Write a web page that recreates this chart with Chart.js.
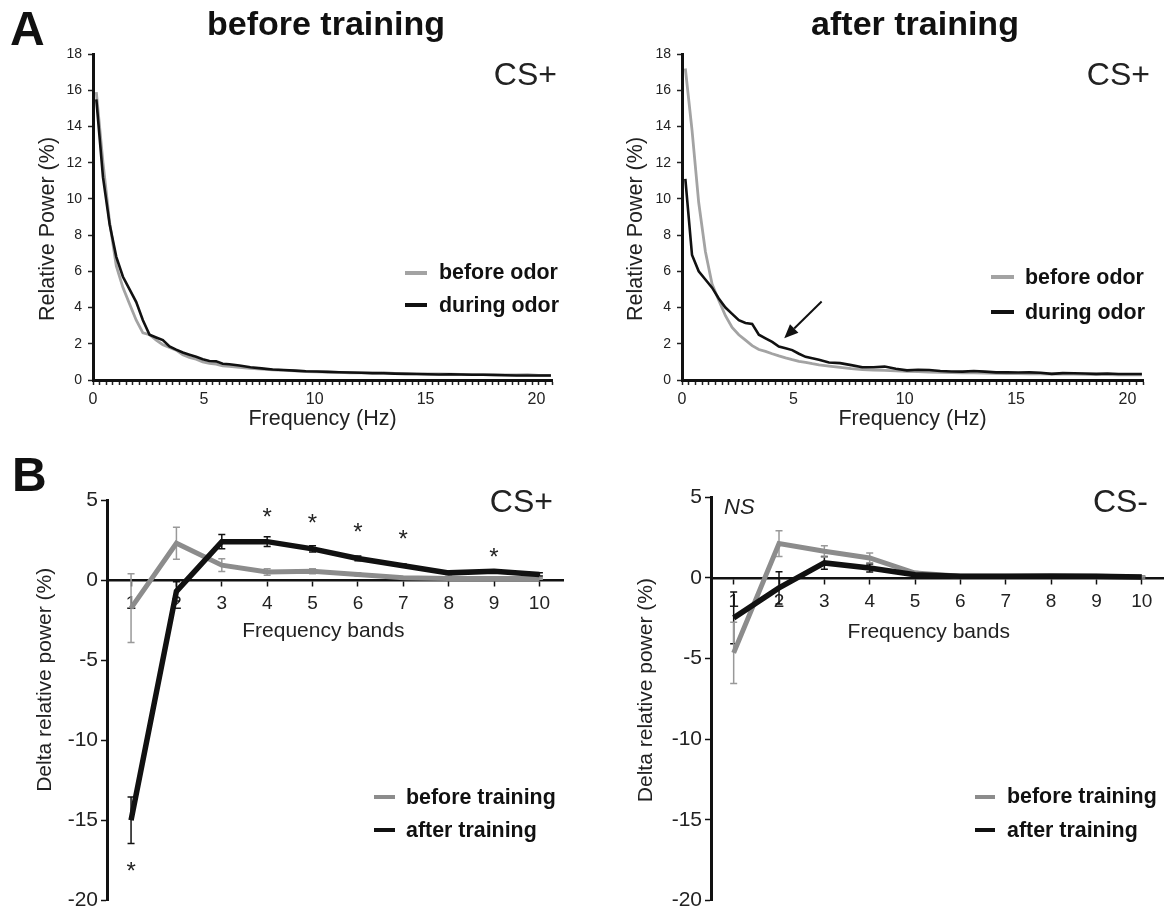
<!DOCTYPE html>
<html>
<head>
<meta charset="utf-8">
<script src="https://cdn.jsdelivr.net/npm/chart.js@4.4.1/dist/chart.umd.min.js"></script>
<style>
  html, body { margin: 0; padding: 0; background: #fff; }
  #fig { position: relative; width: 1164px; height: 916px; overflow: hidden;
         font-family: "Liberation Sans", Arial, sans-serif; color: #111; }
  #fig canvas { position: absolute; left: 0; top: 0; }
  .txt { position: absolute; line-height: 1; white-space: nowrap; }
  .panel { font-weight: bold; font-size: 48px; }
  .title { font-weight: bold; font-size: 34px; transform: translateX(-50%); }
  .cs { font-size: 32px; color: #222; }
  .ns { font-size: 22px; font-style: italic; color: #222; }
  .key { position: absolute; height: 4px; }
  .keytxt { font-weight: bold; font-size: 21.4px; }
</style>
</head>
<body>
<div id="fig">
  <canvas id="specBefore" width="1164" height="916"></canvas>
  <canvas id="specAfter" width="1164" height="916"></canvas>
  <canvas id="bandsPlus" width="1164" height="916"></canvas>
  <canvas id="bandsMinus" width="1164" height="916"></canvas>

  <div class="txt panel" style="left:10px;top:5px">A</div>
  <div class="txt panel" style="left:12px;top:451px">B</div>
  <div class="txt title" style="left:326px;top:6px">before training</div>
  <div class="txt title" style="left:915px;top:6px">after training</div>

  <div class="txt cs" style="right:607px;top:58px">CS+</div>
  <div class="txt cs" style="right:14px;top:58px">CS+</div>
  <div class="txt cs" style="right:611px;top:485px">CS+</div>
  <div class="txt cs" style="right:16px;top:485px">CS-</div>
  <div class="txt ns" style="left:724px;top:496px">NS</div>

  <div class="key" style="left:405px;width:22px;top:271px;background:#a3a3a3"></div>
  <div class="txt keytxt" style="left:439px;top:262px">before odor</div>
  <div class="key" style="left:405px;width:22px;top:303px;background:#111"></div>
  <div class="txt keytxt" style="left:439px;top:295px">during odor</div>

  <div class="key" style="left:991px;width:23px;top:275px;background:#a3a3a3"></div>
  <div class="txt keytxt" style="left:1025px;top:267px">before odor</div>
  <div class="key" style="left:991px;width:23px;top:310px;background:#111"></div>
  <div class="txt keytxt" style="left:1025px;top:302px">during odor</div>

  <div class="key" style="left:374px;width:21px;top:795px;background:#8c8c8c"></div>
  <div class="txt keytxt" style="left:406px;top:787px">before training</div>
  <div class="key" style="left:374px;width:21px;top:828px;background:#111"></div>
  <div class="txt keytxt" style="left:406px;top:820px">after training</div>

  <div class="key" style="left:975px;width:20px;top:795px;background:#8c8c8c"></div>
  <div class="txt keytxt" style="left:1007px;top:786px">before training</div>
  <div class="key" style="left:975px;width:20px;top:828px;background:#111"></div>
  <div class="txt keytxt" style="left:1007px;top:820px">after training</div>
</div>

<script>
// A: relative power spectra (Hz on x)
const FREQ_HZ = [0.15, 0.45, 0.75, 1.05, 1.35, 1.65, 1.95, 2.25, 2.55, 2.85, 3.15, 3.45, 3.75, 4.05,
  4.35, 4.65, 4.95, 5.25, 5.55, 5.85, 6.15, 6.6, 7.1, 7.6, 8.1, 8.6, 9.1, 9.6, 10.1, 10.6, 11.1,
  11.6, 12.1, 12.6, 13.1, 13.6, 14.1, 14.6, 15.1, 15.6, 16.1, 16.6, 17.1, 17.6, 18.1, 18.6, 19.1,
  19.6, 20.1, 20.65];

const PRE_TRAIN_BEFORE_ODOR = [15.9, 12.0, 8.7, 6.3, 5.1, 4.2, 3.3, 2.6, 2.5, 2.2, 1.95, 1.8, 1.65,
  1.4, 1.25, 1.15, 1.0, 0.92, 0.88, 0.78, 0.76, 0.7, 0.64, 0.6, 0.56, 0.53, 0.5, 0.47, 0.45, 0.43,
  0.42, 0.4, 0.39, 0.38, 0.4, 0.36, 0.35, 0.34, 0.33, 0.33, 0.32, 0.31, 0.3, 0.3, 0.29, 0.28, 0.28,
  0.29, 0.26, 0.25];
const PRE_TRAIN_DURING_ODOR = [15.5, 11.2, 8.6, 6.8, 5.7, 5.0, 4.3, 3.3, 2.5, 2.35, 2.2, 1.85, 1.68,
  1.52, 1.4, 1.28, 1.15, 1.05, 1.03, 0.9, 0.87, 0.8, 0.7, 0.64, 0.58, 0.55, 0.52, 0.48, 0.47, 0.45,
  0.43, 0.41, 0.4, 0.38, 0.37, 0.35, 0.34, 0.33, 0.32, 0.3, 0.31, 0.3, 0.29, 0.29, 0.28, 0.26, 0.25,
  0.25, 0.25, 0.25];
const POST_TRAIN_BEFORE_ODOR = [17.2, 13.8, 9.8, 7.1, 5.3, 4.4, 3.55, 2.9, 2.5, 2.2, 1.9, 1.68, 1.58,
  1.45, 1.33, 1.22, 1.12, 1.03, 0.97, 0.9, 0.84, 0.77, 0.7, 0.63, 0.58, 0.55, 0.53, 0.5, 0.48, 0.46,
  0.44, 0.42, 0.41, 0.4, 0.39, 0.38, 0.37, 0.36, 0.35, 0.34, 0.34, 0.33, 0.32, 0.32, 0.31, 0.3, 0.3,
  0.29, 0.28, 0.28];
const POST_TRAIN_DURING_ODOR = [11.1, 6.9, 6.0, 5.55, 5.1, 4.5, 4.0, 3.65, 3.3, 3.15, 3.1, 2.5, 2.3,
  2.1, 1.85, 1.75, 1.65, 1.45, 1.28, 1.2, 1.12, 0.97, 0.93, 0.82, 0.7, 0.7, 0.74, 0.62, 0.53, 0.57,
  0.55, 0.5, 0.47, 0.46, 0.5, 0.46, 0.42, 0.42, 0.41, 0.42, 0.4, 0.34, 0.38, 0.37, 0.36, 0.34, 0.36,
  0.33, 0.33, 0.33];
const FREQ_LABELS = [0, 5, 10, 15, 20];
const ARROW_FROM = [6.27, 4.33];   // Hz, %
const ARROW_TO = [4.59, 2.3];

// B: delta relative power per frequency band (mean and error)
const BANDS = [1, 2, 3, 4, 5, 6, 7, 8, 9, 10];
const CSP_BEFORE = [-1.75, 2.3, 0.93, 0.5, 0.55, 0.35, 0.15, 0.1, 0.1, 0.1];
const CSP_BEFORE_ERR = [2.15, 1.0, 0.4, 0.2, 0.15, 0.1, 0.05, 0.05, 0.05, 0.05];
const CSP_AFTER = [-15.0, -0.7, 2.4, 2.4, 1.95, 1.35, 0.9, 0.45, 0.55, 0.35];
const CSP_AFTER_ERR = [1.45, 0.6, 0.45, 0.3, 0.2, 0.15, 0.1, 0.1, 0.1, 0.1];
const CSM_BEFORE = [-4.65, 2.13, 1.65, 1.24, 0.3, 0.1, 0.1, 0.15, 0.1, 0.05];
const CSM_BEFORE_ERR = [1.9, 0.8, 0.35, 0.3, 0.1, 0.05, 0.05, 0.05, 0.05, 0.05];
const CSM_AFTER = [-2.48, -0.62, 0.93, 0.62, 0.2, 0.1, 0.1, 0.1, 0.1, 0.05];
const CSM_AFTER_ERR = [1.6, 1.0, 0.4, 0.25, 0.1, 0.05, 0.05, 0.05, 0.05, 0.05];
const CSP_STAR_BANDS = [1, 4, 5, 6, 7, 9];
const CSP_STAR_Y = [-17.8, 4.3, 3.93, 3.38, 2.95, 1.78];

const FONT = '"Liberation Sans", Arial, sans-serif';
const INK = '#111';
Chart.defaults.font.family = FONT;
Chart.defaults.color = '#222';

function pairs(xs, ys) {
  return ys.map(function (v, i) { return { x: xs[i], y: v }; });
}

// scale titles are centred on their axis; pad with blanks to nudge them off centre
function nudge(text, lead, trail) {
  return '\u00a0'.repeat(lead) + text + '\u00a0'.repeat(trail);
}

// vertical error bars with caps, under the lines
var errorBars = {
  id: 'errorBars',
  beforeDatasetsDraw: function (chart) {
    var ctx = chart.ctx, xs = chart.scales.x, ys = chart.scales.y;
    chart.data.datasets.forEach(function (ds) {
      if (!ds.errors) return;
      ctx.save();
      ctx.strokeStyle = ds.errorColor;
      ctx.lineWidth = 1.5;
      ds.data.forEach(function (p, j) {
        var px = xs.getPixelForValue(p.x);
        var top = ys.getPixelForValue(p.y + ds.errors[j]);
        var bot = ys.getPixelForValue(p.y - ds.errors[j]);
        ctx.beginPath();
        ctx.moveTo(px, top); ctx.lineTo(px, bot);
        ctx.moveTo(px - 3.5, top); ctx.lineTo(px + 3.5, top);
        ctx.moveTo(px - 3.5, bot); ctx.lineTo(px + 3.5, bot);
        ctx.stroke();
      });
      ctx.restore();
    });
  },
};

var stars = {
  id: 'stars',
  afterDatasetsDraw: function (chart, args, opts) {
    if (!opts.bands) return;
    var ctx = chart.ctx, xs = chart.scales.x, ys = chart.scales.y;
    ctx.save();
    ctx.font = '24px ' + FONT;
    ctx.fillStyle = '#222';
    ctx.textAlign = 'center';
    ctx.textBaseline = 'alphabetic';
    opts.bands.forEach(function (b, i) {
      ctx.fillText('*', xs.getPixelForValue(b), ys.getPixelForValue(opts.values[i]) + 0.57 * 24);
    });
    ctx.restore();
  },
};

var arrow = {
  id: 'arrow',
  afterDatasetsDraw: function (chart, args, opts) {
    if (!opts.from) return;
    var ctx = chart.ctx, xs = chart.scales.x, ys = chart.scales.y;
    var x0 = xs.getPixelForValue(opts.from[0]), y0 = ys.getPixelForValue(opts.from[1]);
    var x1 = xs.getPixelForValue(opts.to[0]), y1 = ys.getPixelForValue(opts.to[1]);
    var a = Math.atan2(y1 - y0, x1 - x0), len = 14, half = 6;
    var bx = x1 - len * Math.cos(a), by = y1 - len * Math.sin(a);
    ctx.save();
    ctx.strokeStyle = INK; ctx.fillStyle = INK; ctx.lineWidth = 2;
    ctx.beginPath(); ctx.moveTo(x0, y0); ctx.lineTo(bx, by); ctx.stroke();
    ctx.beginPath();
    ctx.moveTo(x1, y1);
    ctx.lineTo(bx + half * Math.sin(a), by - half * Math.cos(a));
    ctx.lineTo(bx - half * Math.sin(a), by + half * Math.cos(a));
    ctx.closePath(); ctx.fill();
    ctx.restore();
  },
};

function spectrumChart(id, box, before, during, arrowOpts) {
  var minor = [];
  for (var k = 0; k <= 69; k++) minor.push({ value: Math.round(k * 3) / 10 });
  return new Chart(document.getElementById(id), {
    type: 'line',
    data: {
      datasets: [
        { label: 'during odor', data: pairs(FREQ_HZ, during), borderColor: INK, borderWidth: 2.6,
          pointRadius: 0, order: 0 },
        { label: 'before odor', data: pairs(FREQ_HZ, before), borderColor: '#a3a3a3', borderWidth: 2.8,
          pointRadius: 0, order: 1 },
      ],
    },
    options: {
      responsive: false, animation: false, events: [],
      layout: { autoPadding: false,
        padding: { left: box.titleLeft, top: box.top, right: 1164 - box.right, bottom: 916 - box.bottom - 56 } },
      plugins: { legend: { display: false }, tooltip: { enabled: false }, arrow: arrowOpts || {} },
      scales: {
        x: {
          type: 'linear', min: 0, max: 20.7, position: 'bottom', weight: 0,
          afterBuildTicks: function (s) { s.ticks = minor; },
          afterFit: function (s) { s.height = 6; },
          ticks: { display: false, autoSkip: false },
          grid: { display: true, drawOnChartArea: false, tickLength: 5, tickWidth: 1.5, tickColor: '#222' },
          border: { display: true, width: 3, color: INK },
        },
        xl: {
          type: 'linear', min: 0, max: 20.7, position: 'bottom', weight: 1,
          afterBuildTicks: function (s) { s.ticks = FREQ_LABELS.map(function (v) { return { value: v }; }); },
          afterFit: function (s) { s.height = 50; },
          ticks: { padding: -4, font: { size: 16 }, autoSkip: false },
          grid: { display: false }, border: { display: false },
          title: { display: true, text: 'Frequency (Hz)', font: { size: 21.5 } },
        },
        y: {
          min: 0, max: 18,
          afterFit: function (s) { s.width = box.left - box.titleLeft; },
          ticks: { stepSize: 2, padding: 6, font: { size: 14 } },
          grid: { display: true, drawOnChartArea: false, tickLength: 5, tickWidth: 1.5, tickColor: '#222' },
          border: { width: 3, color: INK },
          title: { display: true, text: nudge('Relative Power (%)', 0, 4), font: { size: 21.5 } },
        },
      },
    },
    plugins: [arrow],
  });
}

function bandChart(id, box, before, beforeErr, after, afterErr, starOpts) {
  return new Chart(document.getElementById(id), {
    type: 'line',
    data: {
      datasets: [
        { label: 'after training', data: pairs(BANDS, after), errors: afterErr, errorColor: INK,
          borderColor: INK, borderWidth: 5.5, pointRadius: 0, order: 0 },
        { label: 'before training', data: pairs(BANDS, before), errors: beforeErr, errorColor: '#999',
          borderColor: '#8c8c8c', borderWidth: 5, pointRadius: 0, order: 1 },
      ],
    },
    options: {
      responsive: false, animation: false, events: [],
      layout: { autoPadding: false,
        padding: { left: box.titleLeft, top: box.top, right: 1164 - box.right, bottom: 916 - box.bottom } },
      plugins: { legend: { display: false }, tooltip: { enabled: false }, stars: starOpts || {} },
      scales: {
        x: {
          type: 'linear', min: box.xmin, max: box.xmax, position: { y: 0 },
          afterBuildTicks: function (s) { s.ticks = BANDS.map(function (v) { return { value: v }; }); },
          afterFit: function (s) { s.height = box.xh; },
          ticks: { padding: 7, font: { size: 19 }, autoSkip: false, maxRotation: 0 },
          grid: { display: true, drawOnChartArea: false, tickLength: 5, tickWidth: 1.5, tickColor: INK },
          border: { width: 2.5, color: INK },
          title: { display: true, text: nudge('Frequency bands', 0, box.xTrail), font: { size: 21 } },
        },
        y: {
          min: -20, max: 5,
          afterFit: function (s) { s.width = box.left - box.titleLeft; },
          ticks: { stepSize: 5, padding: 3, font: { size: 21 } },
          grid: { display: true, drawOnChartArea: false, tickLength: 6, tickWidth: 1.5, tickColor: INK },
          border: { width: 3, color: INK },
          title: { display: true, text: nudge('Delta relative power (%)', box.yLead, 0), font: { size: 21 } },
        },
      },
    },
    plugins: [errorBars, stars],
  });
}

spectrumChart('specBefore', { titleLeft: 31, left: 93, right: 552, top: 54, bottom: 380 },
  PRE_TRAIN_BEFORE_ODOR, PRE_TRAIN_DURING_ODOR);
spectrumChart('specAfter', { titleLeft: 619, left: 682, right: 1143, top: 54, bottom: 380 },
  POST_TRAIN_BEFORE_ODOR, POST_TRAIN_DURING_ODOR, { from: ARROW_FROM, to: ARROW_TO });
bandChart('bandsPlus', { titleLeft: 28.4, left: 107, right: 563, top: 500, bottom: 906,
  xmin: 0.47, xmax: 10.52, xh: 68, xTrail: 4, yLead: 7 },
  CSP_BEFORE, CSP_BEFORE_ERR, CSP_AFTER, CSP_AFTER_ERR,
  { bands: CSP_STAR_BANDS, values: CSP_STAR_Y });
bandChart('bandsMinus', { titleLeft: 629.4, left: 711, right: 1164, top: 497.3, bottom: 903.3,
  xmin: 0.5, xmax: 10.49, xh: 71.3, xTrail: 3, yLead: 3 },
  CSM_BEFORE, CSM_BEFORE_ERR, CSM_AFTER, CSM_AFTER_ERR);
</script>
</body>
</html>
